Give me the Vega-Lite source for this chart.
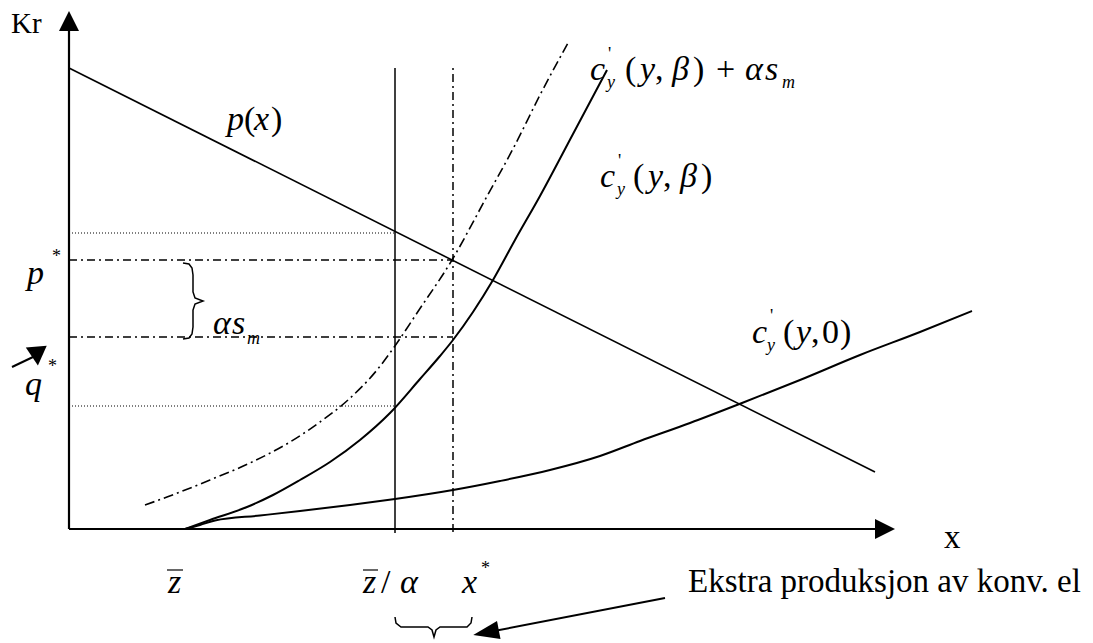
{
  "$schema": "https://vega.github.io/schema/vega-lite/v6.json",
  "width": 1093,
  "height": 643,
  "autosize": {"type": "none"},
  "padding": 0,
  "background": "white",
  "config": {"view": {"stroke": null}},
  "datasets": {
    "axesR": [{"u": 0, "v": 0, "u2": 0, "v2": 500}, {"u": 0, "v": 0, "u2": 806, "v2": 0}],
    "arrowUp": [{"u": 0, "v": 508}],
    "arrowRight": [{"u": 816, "v": 0}],
    "demand": [{"u": 0, "v": 461}, {"u": 806, "v": 57}],
    "c0": [
      {"u": 116, "v": 0}, {"u": 131, "v": 4}, {"u": 146, "v": 8.5}, {"u": 191, "v": 13.5}, {"u": 231, "v": 18},
      {"u": 281, "v": 24}, {"u": 326, "v": 30}, {"u": 384, "v": 39}, {"u": 431, "v": 48}, {"u": 481, "v": 59},
      {"u": 531, "v": 73}, {"u": 571, "v": 88}, {"u": 621, "v": 106}, {"u": 673, "v": 126}, {"u": 731, "v": 149},
      {"u": 791, "v": 174}, {"u": 851, "v": 197}, {"u": 903, "v": 218}
    ],
    "cb": [
      {"u": 116, "v": 0}, {"u": 141, "v": 9}, {"u": 178, "v": 22}, {"u": 204, "v": 34}, {"u": 231, "v": 49},
      {"u": 261, "v": 67}, {"u": 291, "v": 89}, {"u": 321, "v": 116}, {"u": 351, "v": 150}, {"u": 371, "v": 173},
      {"u": 384, "v": 189}, {"u": 404, "v": 217}, {"u": 424, "v": 249}, {"u": 446, "v": 289}, {"u": 471, "v": 333},
      {"u": 504, "v": 395}, {"u": 538, "v": 459}
    ],
    "cba": [
      {"u": 76, "v": 24}, {"u": 98, "v": 32}, {"u": 141, "v": 49}, {"u": 181, "v": 66}, {"u": 221, "v": 87},
      {"u": 251, "v": 107}, {"u": 279, "v": 129}, {"u": 308, "v": 159}, {"u": 328, "v": 186}, {"u": 348, "v": 216},
      {"u": 383, "v": 269}, {"u": 416, "v": 329}, {"u": 446, "v": 384}, {"u": 471, "v": 434}, {"u": 499, "v": 486}
    ],
    "dotted": [{"u": 0, "v": 296, "u2": 326, "v2": 296}, {"u": 0, "v": 123, "u2": 326, "v2": 123}],
    "dashdot": [
      {"u": 0, "v": 269, "u2": 384, "v2": 269},
      {"u": 0, "v": 192, "u2": 384, "v2": 192},
      {"u": 384, "v": -3, "u2": 384, "v2": 461}
    ],
    "solidV": [{"u": 326, "v": -4, "u2": 326, "v2": 461}],
    "bars": [{"u": 98, "v": -41, "u2": 114, "v2": -41}, {"u": 294, "v": -41, "u2": 309, "v2": -41}],
    "arrowLines": [{"u": -57, "v": 162, "u2": -36, "v2": 172}, {"u": 596, "v": -69, "u2": 425, "v2": -102}],
    "headQ": [{"u": -32, "v": 174}],
    "headE": [{"u": 417, "v": -103.5}],
    "braceV": [
      {"i": 0, "u": 114, "v": 266}, {"i": 1, "u": 120, "v": 265}, {"i": 2, "u": 123, "v": 261}, {"i": 3, "u": 124, "v": 254},
      {"i": 4, "u": 124, "v": 237}, {"i": 5, "u": 126, "v": 231}, {"i": 6, "u": 134, "v": 228}, {"i": 7, "u": 126, "v": 225},
      {"i": 8, "u": 124, "v": 219}, {"i": 9, "u": 124, "v": 202}, {"i": 10, "u": 123, "v": 195}, {"i": 11, "u": 120, "v": 191},
      {"i": 12, "u": 114, "v": 190}
    ],
    "braceH": [
      {"i": 0, "u": 326, "v": -88}, {"i": 1, "u": 327, "v": -94}, {"i": 2, "u": 332, "v": -98}, {"i": 3, "u": 359, "v": -98},
      {"i": 4, "u": 363, "v": -101}, {"i": 5, "u": 365, "v": -108}, {"i": 6, "u": 367, "v": -101}, {"i": 7, "u": 371, "v": -98},
      {"i": 8, "u": 398, "v": -98}, {"i": 9, "u": 402, "v": -94}, {"i": 10, "u": 403, "v": -88}
    ],
    "itBig": [
      {"t": "c", "u": 521, "v": 449}, {"t": "y", "u": 571, "v": 449}, {"t": "β", "u": 603, "v": 449},
      {"t": "α", "u": 676, "v": 449}, {"t": "s", "u": 696, "v": 449},
      {"t": "c", "u": 531, "v": 342}, {"t": "y", "u": 579, "v": 342}, {"t": "β", "u": 611, "v": 342},
      {"t": "c", "u": 683, "v": 186}, {"t": "y", "u": 727, "v": 186},
      {"t": "p", "u": 158, "v": 399}, {"t": "x", "u": 185, "v": 399},
      {"t": "p", "u": -42, "v": 245}, {"t": "q", "u": -44, "v": 134},
      {"t": "α", "u": 144, "v": 195}, {"t": "s", "u": 163, "v": 195},
      {"t": "z", "u": 99, "v": -64}, {"t": "z", "u": 294, "v": -64}, {"t": "α", "u": 331, "v": -64}, {"t": "x", "u": 393, "v": -64}
    ],
    "upBig": [
      {"t": "(", "u": 556, "v": 449}, {"t": ",", "u": 586, "v": 449}, {"t": ")", "u": 624, "v": 449}, {"t": "+", "u": 647, "v": 449},
      {"t": "(", "u": 564, "v": 342}, {"t": ",", "u": 594, "v": 342}, {"t": ")", "u": 632, "v": 342},
      {"t": "(", "u": 714, "v": 186}, {"t": ",", "u": 742, "v": 186}, {"t": "0", "u": 753, "v": 186}, {"t": ")", "u": 771, "v": 186},
      {"t": "(", "u": 175, "v": 399}, {"t": ")", "u": 202, "v": 399},
      {"t": "/", "u": 312, "v": -64}
    ],
    "itSmall": [
      {"t": "y", "u": 538, "v": 441}, {"t": "m", "u": 713, "v": 441},
      {"t": "y", "u": 548, "v": 334}, {"t": "y", "u": 698, "v": 178},
      {"t": "m", "u": 178, "v": 185}
    ],
    "upSmall": [
      {"t": "'", "u": 539, "v": 469}, {"t": "'", "u": 549, "v": 362}, {"t": "'", "u": 701, "v": 207},
      {"t": "*", "u": -17, "v": 267}, {"t": "*", "u": -21, "v": 157}, {"t": "*", "u": 412, "v": -45}
    ],
    "upMid": [{"t": "x", "u": 875, "v": -19}, {"t": "Ekstra produksjon av konv. el", "u": 619, "v": -63}],
    "kr": [{"t": "Kr", "u": -58, "v": 496}]
  },
  "encoding": {
    "x": {"field": "u", "type": "quantitative", "scale": {"domain": [-69, 1024], "nice": false, "zero": false}, "axis": null},
    "y": {"field": "v", "type": "quantitative", "scale": {"domain": [-114, 529], "nice": false, "zero": false}, "axis": null}
  },
  "layer": [
    {"data": {"name": "axesR"}, "mark": {"type": "rule", "color": "black", "strokeWidth": 2.2}, "encoding": {"x2": {"field": "u2"}, "y2": {"field": "v2"}}},
    {"data": {"name": "arrowUp"}, "mark": {"type": "point", "shape": "M0,-1L-1,1L1,1Z", "size": 400, "filled": true, "color": "black", "opacity": 1}, "encoding": {}},
    {"data": {"name": "arrowRight"}, "mark": {"type": "point", "shape": "M1,0L-1,-1L-1,1Z", "size": 400, "filled": true, "color": "black", "opacity": 1}, "encoding": {}},
    {"data": {"name": "dotted"}, "mark": {"type": "rule", "color": "black", "strokeWidth": 1.2, "strokeDash": [1, 2]}, "encoding": {"x2": {"field": "u2"}, "y2": {"field": "v2"}}},
    {"data": {"name": "dashdot"}, "mark": {"type": "rule", "color": "black", "strokeWidth": 1.5, "strokeDash": [8, 4, 2, 4]}, "encoding": {"x2": {"field": "u2"}, "y2": {"field": "v2"}}},
    {"data": {"name": "solidV"}, "mark": {"type": "rule", "color": "black", "strokeWidth": 1.5}, "encoding": {"x2": {"field": "u2"}, "y2": {"field": "v2"}}},
    {"data": {"name": "demand"}, "mark": {"type": "line", "color": "black", "strokeWidth": 1.6}, "encoding": {}},
    {"data": {"name": "c0"}, "mark": {"type": "line", "color": "black", "strokeWidth": 2, "interpolate": "monotone"}, "encoding": {}},
    {"data": {"name": "cb"}, "mark": {"type": "line", "color": "black", "strokeWidth": 2, "interpolate": "monotone"}, "encoding": {}},
    {"data": {"name": "cba"}, "mark": {"type": "line", "color": "black", "strokeWidth": 1.6, "interpolate": "monotone", "strokeDash": [10, 4, 2, 4]}, "encoding": {}},
    {"data": {"name": "bars"}, "mark": {"type": "rule", "color": "black", "strokeWidth": 1.2}, "encoding": {"x2": {"field": "u2"}, "y2": {"field": "v2"}}},
    {"data": {"name": "arrowLines"}, "mark": {"type": "rule", "color": "black", "strokeWidth": 2}, "encoding": {"x2": {"field": "u2"}, "y2": {"field": "v2"}}},
    {"data": {"name": "headQ"}, "mark": {"type": "point", "shape": "M-1,-0.8L1,-0.8L0,1Z", "size": 441, "angle": -5, "filled": true, "color": "black", "opacity": 1}, "encoding": {}},
    {"data": {"name": "headE"}, "mark": {"type": "point", "shape": "M1,0L-1,-0.7L-1,0.7Z", "size": 676, "angle": 169, "filled": true, "color": "black", "opacity": 1}, "encoding": {}},
    {"data": {"name": "braceV"}, "mark": {"type": "line", "color": "black", "strokeWidth": 1.5}, "encoding": {"order": {"field": "i", "type": "quantitative"}}},
    {"data": {"name": "braceH"}, "mark": {"type": "line", "color": "black", "strokeWidth": 1.5}, "encoding": {"order": {"field": "i", "type": "quantitative"}}},
    {"data": {"name": "itBig"}, "mark": {"type": "text", "font": "Liberation Serif", "fontSize": 34, "fontStyle": "italic", "align": "left", "baseline": "alphabetic", "color": "black"}, "encoding": {"text": {"field": "t"}}},
    {"data": {"name": "upBig"}, "mark": {"type": "text", "font": "Liberation Serif", "fontSize": 34, "align": "left", "baseline": "alphabetic", "color": "black"}, "encoding": {"text": {"field": "t"}}},
    {"data": {"name": "itSmall"}, "mark": {"type": "text", "font": "Liberation Serif", "fontSize": 18, "fontStyle": "italic", "align": "left", "baseline": "alphabetic", "color": "black"}, "encoding": {"text": {"field": "t"}}},
    {"data": {"name": "upSmall"}, "mark": {"type": "text", "font": "Liberation Serif", "fontSize": 18, "align": "left", "baseline": "alphabetic", "color": "black"}, "encoding": {"text": {"field": "t"}}},
    {"data": {"name": "upMid"}, "mark": {"type": "text", "font": "Liberation Serif", "fontSize": 33, "align": "left", "baseline": "alphabetic", "color": "black"}, "encoding": {"text": {"field": "t"}}},
    {"data": {"name": "kr"}, "mark": {"type": "text", "font": "Liberation Serif", "fontSize": 29, "align": "left", "baseline": "alphabetic", "color": "black"}, "encoding": {"text": {"field": "t"}}}
  ]
}
